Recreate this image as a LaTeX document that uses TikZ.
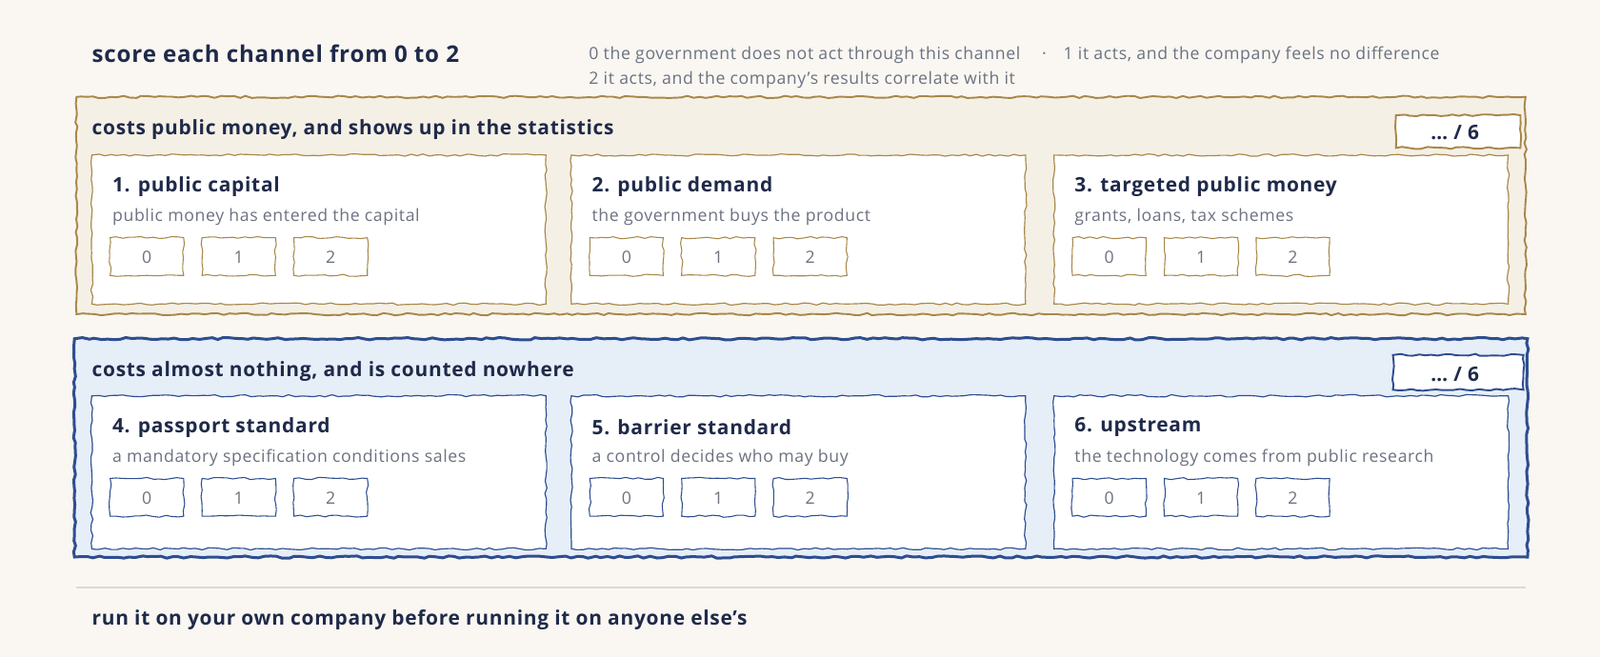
\documentclass[tikz,border=0pt]{standalone}
\usepackage{fontspec}
\setmainfont{Open Sans}[LetterSpace=3.5]
\usetikzlibrary{decorations.pathmorphing}
\definecolor{bg}{HTML}{FAF7F2}
\definecolor{ink}{HTML}{1F2A4A}
\definecolor{gray}{HTML}{6B7280}
\definecolor{brown}{HTML}{A8884A}
\definecolor{beige}{HTML}{F5F0E6}
\definecolor{navy}{HTML}{2E4E8F}
\definecolor{lblue}{HTML}{E6EEF8}
\definecolor{sep}{HTML}{DDD8CE}
\tikzset{
 rough/.style={decorate,decoration={random steps,segment length=6pt,amplitude=1.1pt}},
 title/.style={anchor=west,font=\fontsize{22.5}{26}\selectfont\bfseries,text=ink,inner sep=0},
 head/.style={anchor=west,font=\fontsize{19.5}{23}\selectfont\bfseries,text=ink,inner sep=0},
 sub/.style={anchor=west,font=\fontsize{16.5}{20}\selectfont,text=gray,inner sep=0},
 num/.style={font=\fontsize{16.5}{20}\selectfont,text=gray,inner sep=0},
}
\newcommand{\mycard}[6]{% x0 y0 y1 color title subtitle
 \draw[rough,draw=#4,line width=1.1pt,fill=white] (#1,#2) rectangle (#1+445,#3);
 \node[head] at (#1+20,#2+31) {#5};
 \node[sub] at (#1+20,#2+61) {#6};
 \foreach \k/\v in {0/0,1/1,2/2}{
  \draw[rough,draw=#4,line width=1pt,fill=white] (#1+18+\k*90,#2+81) rectangle (#1+90+\k*90,#2+118);
  \node[num] at (#1+54+\k*90,#2+100) {\v};}
}
\begin{document}
\begin{tikzpicture}[x=1pt,y=-1pt]
\fill[bg] (0,0) rectangle (1568,644);
\useasboundingbox (0,0) rectangle (1568,644);
\node[title] (t) at (90,53) {score each channel from 0 to 2};
\node[sub] (l1) at (577,54) {0 the government does not act through this channel \quad·\quad 1 it acts, and the company feels no difference};
\node[sub] (l2) at (577,78) {2 it acts, and the company's results correlate with it};
% panel 1
\draw[rough,draw=brown,line width=1.8pt,fill=beige] (75,95) rectangle (1495,308);
\node[head] (h1) at (90,127) {costs public money, and shows up in the statistics};
\draw[rough,draw=brown,line width=1.8pt,fill=white] (1368,113) rectangle (1490,145);
\node[head] (s1) at (1402,130) {\dots\ / 6};
\mycard{90}{152}{298}{brown}{1. public capital}{public money has entered the capital}
\mycard{560}{152}{298}{brown}{2. public demand}{the government buys the product}
\mycard{1033}{152}{298}{brown}{3. targeted public money}{grants, loans, tax schemes}
% panel 2
\draw[rough,draw=navy,line width=2.8pt,fill=lblue] (73,332) rectangle (1497,546);
\node[head] (h2) at (90,364) {costs almost nothing, and is counted nowhere};
\draw[rough,draw=navy,line width=1.8pt,fill=white] (1365,348) rectangle (1493,382);
\node[head] (s2) at (1402,367) {\dots\ / 6};
\mycard{90}{388}{538}{navy}{4. passport standard}{a mandatory specification conditions sales}
\mycard{560}{388}{538}{navy}{5. barrier standard}{a control decides who may buy}
\mycard{1033}{388}{538}{navy}{6. upstream}{the technology comes from public research}
\draw[sep,line width=1.3pt] (75,576) -- (1495,576);
\node[head] (f) at (90,608) {run it on your own company before running it on anyone else's};
\end{tikzpicture}
\end{document}
